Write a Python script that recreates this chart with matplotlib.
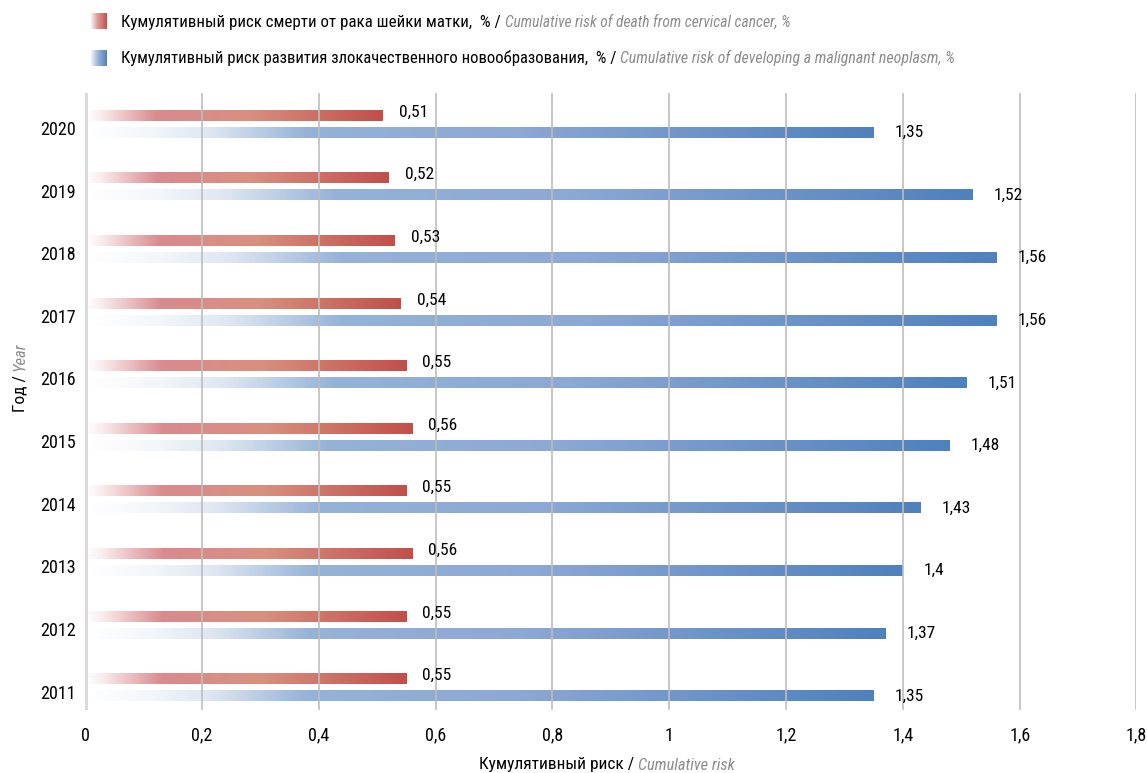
import matplotlib
matplotlib.use("Agg")
import matplotlib.pyplot as plt
import numpy as np
from matplotlib.colors import LinearSegmentedColormap

plt.rcParams['font.family'] = ['Roboto Condensed', 'PT Sans Narrow', 'Liberation Sans', 'DejaVu Sans']

# ---------------- data ----------------
years = [2011, 2012, 2013, 2014, 2015, 2016, 2017, 2018, 2019, 2020]
death_risk = [0.55, 0.55, 0.56, 0.55, 0.56, 0.55, 0.54, 0.53, 0.52, 0.51]
incidence_risk = [1.35, 1.37, 1.40, 1.43, 1.48, 1.51, 1.56, 1.56, 1.52, 1.35]
x_ticks = [0, 0.2, 0.4, 0.6, 0.8, 1.0, 1.2, 1.4, 1.6, 1.8]
x_tick_labels = ["0", "0,2", "0,4", "0,6", "0,8", "1", "1,2", "1,4", "1,6", "1,8"]

legend_ru = ["Кумулятивный риск смерти от рака шейки матки,  % / ",
             "Кумулятивный риск развития злокачественного новообразования,  % / "]
legend_en = ["Cumulative risk of death from cervical cancer, %",
             "Cumulative risk of developing a malignant neoplasm, %"]
xlabel_ru, xlabel_en = "Кумулятивный риск / ", "Cumulative risk"
ylabel_ru, ylabel_en = "Год / ", "Year"

# ---------------- style ----------------
GRAY_IT = "#8C8C8C"
red_cmap = LinearSegmentedColormap.from_list(
    "red", [(0.0, "#FFFFFF"), (0.05, "#FBEDEE"), (0.24, "#D98A8E"),
            (0.55, "#D8907F"), (1.0, "#C14F4B")])
blue_cmap = LinearSegmentedColormap.from_list(
    "blue", [(0.0, "#FFFFFF"), (0.08, "#F3F6FA"), (0.16, "#DCE5F1"),
             (0.28, "#95B2D8"), (0.55, "#8CA8D4"), (1.0, "#4F81BD")])
grad = np.linspace(0, 1, 256).reshape(1, -1)

W, H = 1147, 773
fig = plt.figure(figsize=(W / 100, H / 100), dpi=100)
ax = fig.add_axes([85.2 / W, 1 - 710 / H, (1136.5 - 85.2) / W, (710 - 93) / H])

bar_h = 0.168
red_off, blue_off = 0.2, -0.07
ypos = np.arange(len(years))

for y, d, r in zip(ypos, death_risk, incidence_risk):
    yc = y + red_off
    ax.imshow(grad, extent=[0, d, yc - bar_h / 2, yc + bar_h / 2], cmap=red_cmap,
              aspect='auto', zorder=2, interpolation='bilinear')
    ax.annotate(f"{d:g}".replace('.', ','), xy=(d, yc), xytext=(11.5, 2.5),
                textcoords='offset points', ha='left', va='center', fontsize=12.5,
                color='black', zorder=5)
    yc = y + blue_off
    ax.imshow(grad, extent=[0, r, yc - bar_h / 2, yc + bar_h / 2], cmap=blue_cmap,
              aspect='auto', zorder=2, interpolation='bilinear')
    ax.annotate(f"{r:g}".replace('.', ','), xy=(r, yc), xytext=(15, 0),
                textcoords='offset points', ha='left', va='center', fontsize=12.5,
                color='black', zorder=5)

ax.set_xlim(0, 1.8)
ax.set_ylim(-0.295, 9.56)

for xt in x_ticks[1:]:
    ax.axvline(xt, color='#BDBDBD', lw=1.4, alpha=0.85, zorder=3)
ax.axvline(0, color='#D9D9D9', lw=3.5, zorder=3)

ax.set_xticks(x_ticks)
ax.set_xticklabels(x_tick_labels)
ax.set_yticks(ypos)
ax.set_yticklabels([str(y) for y in years])
ax.tick_params(axis='x', length=0, pad=12, labelsize=13)
ax.tick_params(axis='y', length=0, pad=6.5, labelsize=13)
for s in ax.spines.values():
    s.set_visible(False)

# ---------------- legend ----------------
def sq(y0, cmap_end):
    a = fig.add_axes([90 / W, 1 - (y0 + 16) / H, 17 / W, 16 / H])
    cm = LinearSegmentedColormap.from_list("s", [(0, "#FFFFFF"), (0.45, cmap_end[0]), (1, cmap_end[1])])
    a.imshow(grad, cmap=cm, aspect='auto', extent=[0, 1, 0, 1])
    a.axis('off')

sq(13, ("#DD9A98", "#C0504D"))
sq(50, ("#9DB6DB", "#4F81BD"))

fig.canvas.draw()
renderer = fig.canvas.get_renderer()

def two_part_h(x, y, t1, t2, size1, size2, ha_center=False):
    a = fig.text(x, y, t1, fontsize=size1, color='black', va='center', ha='left')
    bb = a.get_window_extent(renderer)
    b = fig.text(bb.x1 / W, y, t2, fontsize=size2, color=GRAY_IT, style='italic',
                 va='center', ha='left')
    if ha_center:
        bb2 = b.get_window_extent(renderer)
        total = bb2.x1 - bb.x0
        shift = (x * W - total / 2) - bb.x0
        a.set_x((bb.x0 + shift) / W)
        b.set_x((bb.x1 + shift) / W)
    return a, b

two_part_h(121 / W, 1 - 22 / H, legend_ru[0], legend_en[0], 12.2, 11.2)
two_part_h(121 / W, 1 - 58 / H, legend_ru[1], legend_en[1], 12.0, 11.4)
two_part_h(607 / W, 1 - 765 / H, xlabel_ru, xlabel_en, 12.5, 11.8, ha_center=True)

# y label (rotated)
a = fig.text(20 / W, 1 - 412 / H, ylabel_ru, fontsize=12.5, rotation=90,
             va='bottom', ha='center', color='black')
bb = a.get_window_extent(renderer)
fig.text(20 / W, bb.y1 / H, ylabel_en, fontsize=12, rotation=90, va='bottom',
         ha='center', color=GRAY_IT, style='italic')

fig.savefig("out.png", dpi=100)
